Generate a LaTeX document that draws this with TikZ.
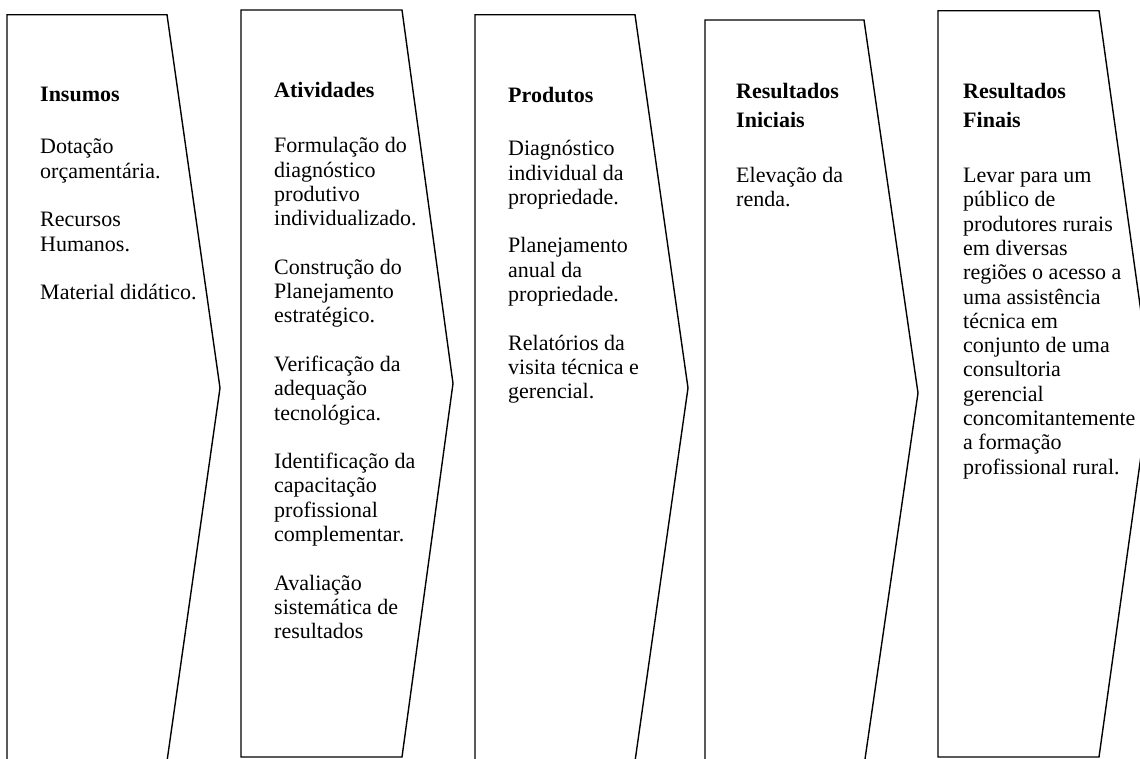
\documentclass[tikz,border=0pt]{standalone}
\usepackage{fontspec}
\setmainfont{Liberation Serif}
\begin{document}
\begin{tikzpicture}[x=1pt,y=-1pt,
  shp/.style={draw=black, line width=1.4pt, line join=miter},
  txt/.style={anchor=north west, inner sep=0pt, align=left, font=\fontsize{22}{24.3}\selectfont}]
\useasboundingbox (0,0) rectangle (1140,758);
\fill[white] (0,0) rectangle (1140,758);
\begin{scope}
\clip (0,0) rectangle (1140,758);
% chevrons
\draw[shp] (7,14.7) -- (167,14.7) -- (220,388) -- (167,761.3) -- (7,761.3) -- cycle;
\draw[shp] (241,10) -- (402,10) -- (453,383.5) -- (402,757) -- (241,757) -- cycle;
\draw[shp] (475,14.7) -- (635,14.7) -- (688,388) -- (635,761.3) -- (475,761.3) -- cycle;
\draw[shp] (705,20) -- (864,20) -- (918,393) -- (864,766) -- (705,766) -- cycle;
\draw[shp] (938,10.7) -- (1099,10.7) -- (1151,384) -- (1099,757) -- (938,757) -- cycle;
\end{scope}
% texts
\node[txt] (t1) at (40,87) {\textbf{Insumos}\\[28pt]
Dota\c{c}\~ao\\or\c{c}ament\'aria.\\[24.3pt]
Recursos\\Humanos.\\[24.3pt]
Material did\'atico.};
\node[txt] (t2) at (274,82) {\textbf{Atividades}\\[31pt]
Formula\c{c}\~ao do\\diagn\'ostico\\produtivo\\individualizado.\\[24.3pt]
Constru\c{c}\~ao do\\Planejamento\\estrat\'egico.\\[24.3pt]
Verifica\c{c}\~ao da\\adequa\c{c}\~ao\\tecnol\'ogica.\\[24.3pt]
Identifica\c{c}\~ao da\\capacita\c{c}\~ao\\profissional\\complementar.\\[24.3pt]
Avalia\c{c}\~ao\\sistem\'atica de\\resultados};
\node[txt] (t3) at (508,87) {\textbf{Produtos}\\[29pt]
Diagn\'ostico\\individual da\\propriedade.\\[24.3pt]
Planejamento\\anual da\\propriedade.\\[24.3pt]
Relat\'orios da\\visita t\'ecnica e\\gerencial.};
\node[txt] (t4) at (736,83) {\textbf{Resultados}\\[4.5pt]\textbf{Iniciais}\\[31pt]
Eleva\c{c}\~ao da\\renda.};
\node[txt] (t5) at (963,83) {\textbf{Resultados}\\[4.5pt]\textbf{Finais}\\[31pt]
Levar para um\\p\'ublico de\\produtores rurais\\em diversas\\regi\~oes o acesso a\\uma assist\^encia\\t\'ecnica em\\conjunto de uma\\consultoria\\gerencial\\concomitantemente\\a forma\c{c}\~ao\\profissional rural.};
\end{tikzpicture}
\end{document}
